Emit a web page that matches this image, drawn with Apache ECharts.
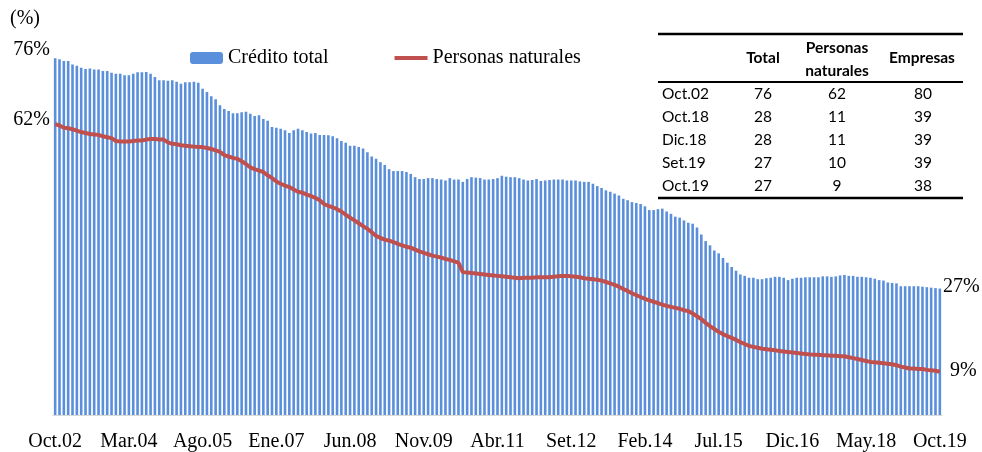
<!DOCTYPE html>
<html>
<head>
<meta charset="utf-8">
<script src="https://cdn.jsdelivr.net/npm/echarts@6/dist/echarts.min.js"></script>
<style>
  html, body { margin: 0; padding: 0; background: #fff; }
  #chart { width: 982px; height: 452px; }
</style>
</head>
<body>
<div id="chart"></div>
<script>
// meses en castellano, serie mensual Oct.02 - Oct.19
const monthNames = ['Ene', 'Feb', 'Mar', 'Abr', 'May', 'Jun', 'Jul', 'Ago', 'Set', 'Oct', 'Nov', 'Dic']
const categories = []
for (let y = 2002, m = 9; y < 2019 || (y === 2019 && m <= 9); m++) {
  if (m > 11) { m = 0; y++ }
  categories.push(monthNames[m] + '.' + String(y % 100).padStart(2, '0'))
}

// Crédito total (%)
const creditoTotal = [
  75.9, 75.7, 75.3, 75.3, 74.6, 74.3, 73.9, 73.6, 73.7, 73.5, 73.5, 73.2, 73.2, 72.8, 72.6, 72.6, 72.3, 72.3, 72.6, 72.9,
  72.9, 73.0, 72.6, 71.9, 71.2, 71.2, 71.1, 71.2, 70.9, 70.5, 70.8, 70.8, 70.9, 70.7, 69.4, 68.7, 67.8, 67.2, 65.9, 65.1,
  64.7, 64.2, 64.2, 64.4, 64.5, 64.1, 63.6, 63.8, 63.0, 62.6, 61.3, 61.1, 60.9, 60.6, 60.0, 60.6, 60.9, 60.6, 60.2, 59.9,
  60.0, 59.6, 59.6, 59.5, 59.3, 58.9, 58.3, 57.9, 57.3, 57.3, 57.0, 56.7, 55.9, 55.0, 54.5, 53.8, 53.2, 52.3, 51.9, 51.9,
  51.9, 51.7, 51.3, 50.6, 50.2, 50.2, 50.4, 50.4, 50.2, 50.1, 49.9, 50.4, 50.1, 50.1, 49.6, 50.2, 50.6, 50.5, 50.4, 50.1,
  50.1, 50.2, 50.4, 50.9, 50.7, 50.6, 50.6, 50.4, 50.1, 49.9, 50.0, 50.2, 49.8, 49.9, 50.0, 50.1, 50.1, 50.1, 49.9, 49.9,
  49.9, 49.7, 49.6, 49.6, 49.2, 48.7, 48.3, 47.8, 47.5, 47.1, 46.7, 46.0, 45.7, 45.3, 45.1, 44.9, 44.4, 43.6, 43.6, 43.8,
  43.9, 43.3, 42.8, 42.2, 42.0, 41.4, 40.9, 40.7, 39.9, 38.4, 37.0, 36.1, 35.0, 34.4, 33.4, 32.4, 31.5, 30.7, 29.9, 29.6,
  29.2, 29.2, 28.9, 28.9, 29.1, 29.2, 29.4, 29.4, 29.2, 28.7, 29.0, 29.2, 29.2, 29.3, 29.3, 29.3, 29.3, 29.5, 29.5, 29.4,
  29.5, 29.7, 29.8, 29.6, 29.6, 29.4, 29.4, 29.3, 29.2, 29.0, 28.7, 28.6, 28.2, 28.1, 28.0, 27.4, 27.4, 27.4, 27.4, 27.4,
  27.3, 27.2, 27.1, 27.0, 26.9
]

// Personas naturales (%)
const personasNaturales = [
  61.9, 61.6, 61.1, 61.0, 60.8, 60.5, 60.2, 60.0, 59.8, 59.7, 59.6, 59.3, 59.1, 58.9, 58.3, 58.2, 58.2, 58.2, 58.3, 58.4,
  58.4, 58.6, 58.7, 58.7, 58.6, 58.6, 58.0, 57.7, 57.6, 57.4, 57.3, 57.2, 57.1, 57.0, 57.0, 56.8, 56.6, 56.3, 56.0, 55.3,
  55.0, 54.7, 54.5, 54.0, 53.4, 52.7, 52.3, 52.0, 51.7, 51.0, 50.4, 49.7, 49.2, 48.8, 48.5, 48.0, 47.5, 47.3, 46.9, 46.6,
  46.2, 45.7, 44.9, 44.5, 44.2, 43.8, 43.3, 42.6, 42.0, 41.4, 40.8, 40.2, 39.6, 38.9, 38.1, 37.7, 37.3, 37.1, 36.8, 36.4,
  36.1, 35.8, 35.6, 35.2, 34.8, 34.5, 34.2, 33.9, 33.7, 33.5, 33.2, 33.0, 32.7, 32.4, 30.4, 30.3, 30.2, 30.1, 30.0, 29.9,
  29.8, 29.7, 29.6, 29.5, 29.4, 29.3, 29.2, 29.1, 29.2, 29.2, 29.2, 29.3, 29.3, 29.3, 29.3, 29.4, 29.5, 29.6, 29.6, 29.5,
  29.4, 29.3, 29.1, 29.0, 28.9, 28.8, 28.6, 28.3, 28.0, 27.7, 27.3, 26.8, 26.4, 25.9, 25.5, 25.1, 24.7, 24.4, 24.1, 23.8,
  23.5, 23.2, 23.0, 22.8, 22.6, 22.3, 22.1, 21.6, 21.0, 20.4, 19.6, 18.9, 18.3, 17.7, 17.2, 16.8, 16.4, 16.0, 15.5, 15.1,
  14.7, 14.5, 14.3, 14.1, 14.0, 13.9, 13.8, 13.6, 13.5, 13.4, 13.3, 13.2, 13.1, 13.0, 12.9, 12.8, 12.8, 12.7, 12.7, 12.6,
  12.6, 12.5, 12.5, 12.3, 12.1, 11.9, 11.7, 11.5, 11.3, 11.2, 11.1, 11.0, 10.9, 10.8, 10.6, 10.3, 10.1, 9.9, 9.9, 9.8,
  9.8, 9.6, 9.5, 9.4, 9.2
]

// cuadro resumen
const tableRows = ['Oct.02', 'Oct.18', 'Dic.18', 'Set.19', 'Oct.19']
const tableTotal = [76, 28, 28, 27, 27]
const tablePersonas = [62, 11, 11, 10, 9]
const tableEmpresas = [80, 39, 39, 39, 38]

const serif = 'Liberation Serif'
const sans = 'Lato'

const graphic = []
// etiquetas sueltas
const label = (text, x, y, align) => graphic.push({
  type: 'text', x, y,
  style: { text, fill: '#000', font: '20px ' + serif, textAlign: align, textVerticalAlign: 'middle' }
})
label('(%)', 10, 19, 'left')
label('76%', 50, 50, 'right')
label('62%', 50, 120, 'right')
label('27%', 943, 287, 'left')
label('9%', 950, 371, 'left')

// tabla
const rule = (y, w) => graphic.push({
  type: 'line', shape: { x1: 658, y1: y, x2: 963, y2: y },
  style: { stroke: '#000', lineWidth: w }
})
rule(34, 2.5)
rule(82, 2)
rule(198, 2.5)
const cell = (text, x, y, align, bold) => graphic.push({
  type: 'text', x, y,
  style: { text: String(text), fill: '#000', font: (bold ? 'bold ' : '') + '15.5px ' + sans, textAlign: align, textVerticalAlign: 'middle' }
})
cell('Total', 763, 58, 'center', true)
cell('Personas', 837, 48, 'center', true)
cell('naturales', 837, 71, 'center', true)
cell('Empresas', 922, 58, 'center', true)
tableRows.forEach((r, i) => {
  const y = 94 + i * 23
  cell(r, 662, y, 'left')
  cell(tableTotal[i], 763, y, 'center')
  cell(tablePersonas[i], 837, y, 'center')
  cell(tableEmpresas[i], 923, y, 'center')
})

const chart = echarts.init(document.getElementById('chart'))
chart.setOption({
  animation: false,
  textStyle: { fontFamily: serif },
  grid: { left: 53, right: 40, top: 39, bottom: 37 },
  legend: {
    left: 185, top: 43,
    itemWidth: 33, itemHeight: 12, itemGap: 64,
    textStyle: { fontFamily: serif, fontSize: 20, color: '#000' },
    data: [
      'Crédito total',
      { name: 'Personas naturales', itemStyle: { opacity: 0 }, lineStyle: { width: 4 } }
    ]
  },
  xAxis: {
    type: 'category',
    data: categories,
    axisTick: { show: false },
    axisLine: { lineStyle: { color: '#D9D9D9' } },
    axisLabel: { interval: 16, color: '#000', fontSize: 20, fontFamily: serif, margin: 17 }
  },
  yAxis: {
    type: 'value', min: 0, max: 80,
    show: false,
    splitLine: { show: false }
  },
  series: [
    {
      name: 'Crédito total',
      type: 'bar',
      data: creditoTotal,
      barWidth: 2.6,
      itemStyle: { color: '#5A8FDB' }
    },
    {
      name: 'Personas naturales',
      type: 'line',
      data: personasNaturales,
      symbol: 'none',
      lineStyle: { color: '#C0504D', width: 4 },
      itemStyle: { color: '#C0504D' }
    }
  ],
  graphic
})
</script>
</body>
</html>
